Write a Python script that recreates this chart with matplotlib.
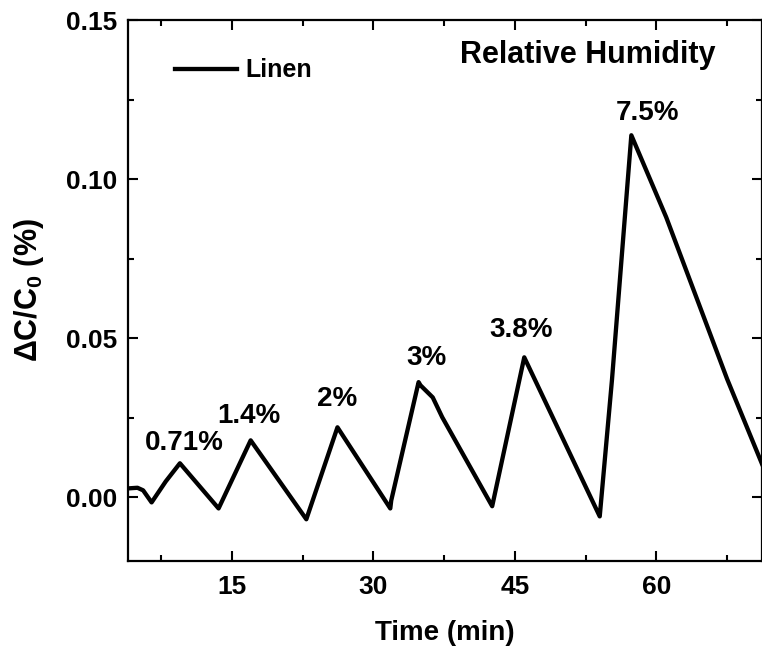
import numpy as np
import matplotlib.pyplot as plt
from matplotlib.ticker import MultipleLocator, FormatStrFormatter

plt.rcParams['font.family'] = ['Liberation Sans', 'DejaVu Sans']
plt.rcParams['font.weight'] = 'bold'
plt.rcParams['mathtext.default'] = 'regular'

# Linen sensor response
time_min = [4.0, 5.0, 5.6, 6.5, 8.0, 9.5, 13.6, 17.0, 22.9, 26.2, 31.8, 31.9,
            34.8, 35.0, 36.3, 37.3, 42.6, 46.0, 54.0, 55.3, 57.35, 61.05,
            67.5, 71.2]
dc_c0 = [0.0028, 0.0030, 0.0022, -0.0016, 0.0050, 0.0107, -0.0035, 0.0179,
         -0.0069, 0.0220, -0.0035, -0.0010, 0.0362, 0.0352, 0.0314, 0.0252,
         -0.0028, 0.0440, -0.0060, 0.0370, 0.1138, 0.0880, 0.0372, 0.0105]

# humidity step labels
rh_labels = ['0.71%', '1.4%', '2%', '3%', '3.8%', '7.5%']
rh_x = [9.93, 16.86, 26.12, 35.65, 45.7, 59.04]
rh_y = [0.0148, 0.0233, 0.0286, 0.0415, 0.0503, 0.1186]

fig = plt.figure(figsize=(7.62, 6.47), dpi=100)
ax = fig.add_axes([0.168, 0.133, 0.832, 0.836])

ax.plot(time_min, dc_c0, color='black', linewidth=3.1, label='Linen')

for lab, x, y in zip(rh_labels, rh_x, rh_y):
    ax.text(x, y, lab, ha='center', va='baseline', fontsize=20, fontweight='bold')

ax.text(0.725, 0.9205, 'Relative Humidity', transform=ax.transAxes,
        ha='center', va='baseline', fontsize=22, fontweight='bold')

ax.set_xlim(4, 71.2)
ax.set_ylim(-0.02, 0.15)
ax.xaxis.set_major_locator(MultipleLocator(15))
ax.xaxis.set_minor_locator(MultipleLocator(7.5))
ax.yaxis.set_major_locator(MultipleLocator(0.05))
ax.yaxis.set_minor_locator(MultipleLocator(0.025))
ax.yaxis.set_major_formatter(FormatStrFormatter('%.2f'))

ax.tick_params(which='both', direction='in', top=True, right=True, width=1.5)
ax.tick_params(which='major', length=7, labelsize=19)
ax.tick_params(which='minor', length=4)
ax.tick_params(axis='x', pad=10)
ax.tick_params(axis='y', pad=8)
for s in ax.spines.values():
    s.set_linewidth(1.6)

ax.set_xlabel('Time (min)', fontsize=20, fontweight='bold', labelpad=15)
ax.set_ylabel('ΔC/C$_0$ (%)', fontsize=22, fontweight='bold', labelpad=14)

ax.legend(loc='center left', bbox_to_anchor=(0.074, 0.907), frameon=False,
          fontsize=18, handlelength=2.5, handletextpad=0.3, borderpad=0,
          borderaxespad=0)

fig.savefig('out.png', dpi=100)
